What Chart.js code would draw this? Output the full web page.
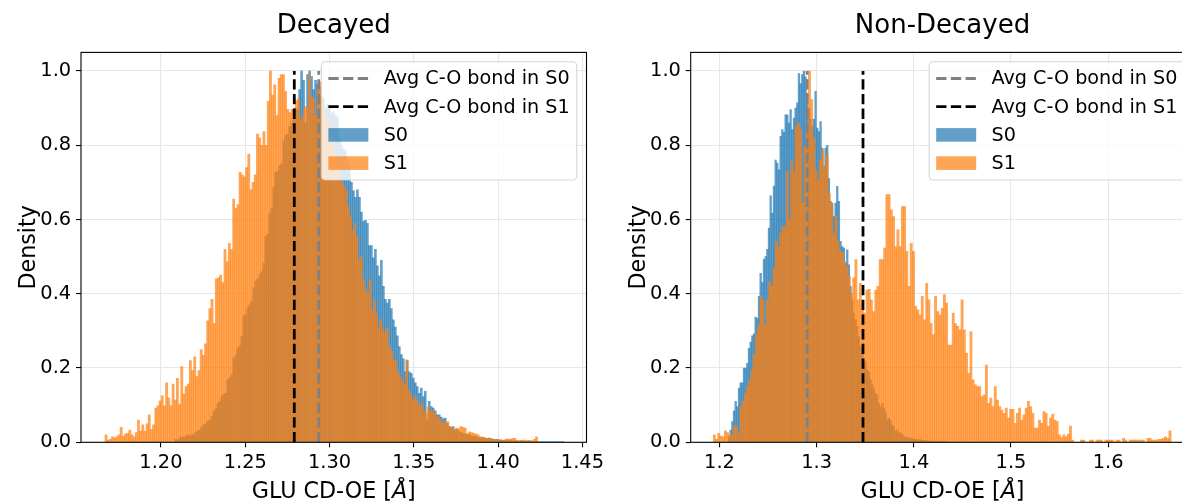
<!DOCTYPE html>
<html>
<head>
<meta charset="utf-8">
<title>GLU CD-OE bond length histograms</title>
<script src="https://cdn.jsdelivr.net/npm/chart.js@4.4.1/dist/chart.umd.min.js"></script>
<style>
  html, body { margin: 0; padding: 0; background: #ffffff; }
  body { width: 1182px; height: 502px; overflow: hidden; position: relative; }
  canvas { position: absolute; top: 0; }
  #decayed { left: 0; }
  #nondecayed { left: 600px; }
</style>
</head>
<body>
<canvas id="decayed" width="620" height="502" style="width:620px;height:502px"></canvas>
<canvas id="nondecayed" width="620" height="502" style="width:620px;height:502px"></canvas>
<script>
// ---- text ----
const leftTitle = 'Decayed';
const rightTitle = 'Non-Decayed';
const xLabelText = 'GLU CD-OE [';
const xLabelUnit = 'Å';
const xLabelClose = ']';
const yLabelText = 'Density';
const legendLabels = ['Avg C-O bond in S0', 'Avg C-O bond in S1', 'S0', 'S1'];

// ---- ticks and axis ranges ----
const yTicks = [0.0, 0.2, 0.4, 0.6, 0.8, 1.0];
const leftXTicks = [1.20, 1.25, 1.30, 1.35, 1.40, 1.45];
const rightXTicks = [1.2, 1.3, 1.4, 1.5, 1.6];
const leftXRange = [1.1526, 1.4524];
const rightXRange = [1.1704, 1.6886];
const yRange = [0, 1.05];

// ---- average C-O bond lengths [S0, S1] ----
const leftAverages = [1.2936, 1.2791];
const rightAverages = [1.2902, 1.3477];

// ---- Decayed, S0 histogram (normalised to peak) ----
const leftS0Start = 1.2083;
const leftS0BinWidth = 0.001183;
const leftS0 = [
  0.008, 0.006, 0.012, 0.015, 0.013, 0.017, 0.02, 0.016, 0.022, 0.02,
  0.027, 0.03, 0.033, 0.04, 0.048, 0.05, 0.058, 0.06, 0.07, 0.083,
  0.09, 0.105, 0.11, 0.123, 0.13, 0.132, 0.168, 0.175, 0.182, 0.227,
  0.235, 0.254, 0.26, 0.285, 0.34, 0.344, 0.362, 0.37, 0.38, 0.416,
  0.434, 0.44, 0.452, 0.46, 0.483, 0.555, 0.56, 0.617, 0.63, 0.686,
  0.727, 0.73, 0.745, 0.75, 0.812, 0.826, 0.83, 0.85, 0.86, 0.895,
  0.9, 0.895, 0.95, 1.0, 0.975, 0.86, 0.99, 1.0, 0.985, 0.95,
  0.975, 0.965, 0.955, 0.93, 0.925, 0.9, 0.91, 0.905, 0.885, 0.89,
  0.88, 0.875, 0.82, 0.8, 0.79, 0.785, 0.76, 0.745, 0.7, 0.677,
  0.66, 0.68, 0.66, 0.62, 0.595, 0.598, 0.59, 0.53, 0.53, 0.497,
  0.52, 0.475, 0.448, 0.49, 0.42, 0.385, 0.375, 0.385, 0.36, 0.33,
  0.31, 0.287, 0.258, 0.236, 0.225, 0.19, 0.22, 0.19, 0.186, 0.173,
  0.16, 0.15, 0.132, 0.146, 0.123, 0.137, 0.06, 0.11, 0.096, 0.092,
  0.085, 0.074, 0.074, 0.068, 0.063, 0.065, 0.051, 0.042, 0.04, 0.042,
  0.033, 0.035, 0.029, 0.027, 0.024, 0.022, 0.02, 0.021, 0.018, 0.015,
  0.016, 0.014, 0.013, 0.012, 0.013, 0.011, 0.01, 0.011, 0.008, 0.009,
  0.007, 0.008, 0.006, 0.006, 0.005, 0.006, 0.004, 0.005, 0.004, 0.004,
  0.003, 0.004, 0.003, 0.003, 0.002, 0.003, 0.002, 0.003, 0.002, 0.002,
  0.001, 0.002, 0.001, 0.002, 0.001, 0.001, 0.002, 0.001, 0.001, 0.001,
  0.002, 0.001, 0.001, 0.001, 0.002
];

// ---- Decayed, S1 histogram ----
const leftS1Start = 1.1668;
const leftS1BinWidth = 0.001283;
const leftS1 = [
  0.02, 0.006, 0.008, 0.015, 0.012, 0.015, 0.02, 0.04, 0.017, 0.022,
  0.024, 0.033, 0.02, 0.015, 0.026, 0.06, 0.03, 0.047, 0.03, 0.05,
  0.074, 0.035, 0.047, 0.092, 0.098, 0.112, 0.125, 0.098, 0.16, 0.12,
  0.098, 0.157, 0.114, 0.172, 0.103, 0.204, 0.13, 0.15, 0.157, 0.22,
  0.193, 0.23, 0.177, 0.193, 0.25, 0.234, 0.265, 0.327, 0.36, 0.385,
  0.32, 0.44, 0.443, 0.45, 0.43, 0.52, 0.486, 0.536, 0.52, 0.655,
  0.63, 0.64, 0.727, 0.72, 0.715, 0.74, 0.776, 0.68, 0.7, 0.72,
  0.83, 0.82, 0.8, 0.837, 0.8, 0.918, 1.0, 0.935, 0.963, 0.88,
  0.98, 0.99, 0.99, 0.945, 0.897, 0.888, 0.897, 0.878, 0.92, 0.925,
  0.87, 0.88, 0.905, 0.9, 0.99, 0.93, 0.925, 0.88, 0.955, 0.97,
  0.93, 0.9, 0.88, 0.85, 0.86, 0.8, 0.78, 0.74, 0.73, 0.7,
  0.69, 0.68, 0.635, 0.61, 0.57, 0.59, 0.555, 0.49, 0.5, 0.438,
  0.41, 0.402, 0.438, 0.355, 0.384, 0.348, 0.31, 0.33, 0.303, 0.294,
  0.308, 0.258, 0.245, 0.222, 0.222, 0.19, 0.177, 0.168, 0.155, 0.222,
  0.141, 0.128, 0.114, 0.123, 0.11, 0.096, 0.105, 0.083, 0.078, 0.095,
  0.087, 0.085, 0.078, 0.069, 0.065, 0.06, 0.051, 0.053, 0.056, 0.042,
  0.04, 0.033, 0.038, 0.036, 0.042, 0.04, 0.038, 0.024, 0.028, 0.026,
  0.024, 0.022, 0.02, 0.015, 0.014, 0.013, 0.011, 0.012, 0.011, 0.007,
  0.006, 0.005, 0.007, 0.006, 0.005, 0.009, 0.009, 0.008, 0.011, 0.011,
  0.005, 0.004, 0.005, 0.006, 0.004, 0.005, 0.005, 0.004, 0.008, 0.015
];

// ---- Non-Decayed, S0 histogram ----
const rightS0Start = 1.2090;
const rightS0BinWidth = 0.001713;
const rightS0 = [
  0.015, 0.033, 0.056, 0.085, 0.11, 0.096, 0.146, 0.16, 0.16, 0.2,
  0.2, 0.213, 0.253, 0.27, 0.287, 0.292, 0.337, 0.334, 0.393, 0.455,
  0.43, 0.493, 0.5, 0.52, 0.577, 0.664, 0.617, 0.69, 0.76, 0.752,
  0.734, 0.824, 0.842, 0.835, 0.882, 0.882, 0.86, 0.896, 0.842, 0.873,
  0.9, 0.914, 0.993, 0.966, 0.99, 1.0, 0.984, 0.94, 0.9, 0.87,
  0.85, 0.87,
  0.945, 0.846, 0.837, 0.864, 0.792, 0.743, 0.792, 0.8, 0.71, 0.649,
  0.644, 0.608, 0.644, 0.689, 0.649, 0.541, 0.527, 0.523, 0.482, 0.518,
  0.478, 0.42, 0.384, 0.348, 0.33, 0.312, 0.285, 0.258, 0.24, 0.222,
  0.217, 0.195, 0.19, 0.168, 0.155, 0.146, 0.132, 0.128, 0.105, 0.096,
  0.105, 0.092, 0.083, 0.06, 0.065, 0.06, 0.047, 0.042, 0.031, 0.033,
  0.024, 0.026, 0.02, 0.017, 0.013, 0.014, 0.011, 0.012, 0.01, 0.009,
  0.008, 0.008, 0.006, 0.007, 0.005, 0.005, 0.004, 0.004, 0.003,
  0.003, 0.002, 0.003, 0.002, 0.002, 0.001, 0.002, 0.001, 0.001, 0.002
];

// ---- Non-Decayed, S1 histogram ----
const rightS1Start = 1.1936;
const rightS1BinWidth = 0.002276;
const rightS1 = [
  0.02, 0.008, 0.024, 0.017, 0.015, 0.031, 0.026, 0.02, 0.02, 0.044,
  0.044, 0.024, 0.096, 0.11, 0.132, 0.15, 0.168, 0.195, 0.235, 0.29,
  0.316, 0.394, 0.384, 0.316, 0.384, 0.433, 0.42, 0.469, 0.541, 0.527,
  0.563, 0.581, 0.581, 0.73, 0.6, 0.757, 0.73, 0.85, 0.86, 0.842,
  0.644, 0.797, 0.85, 1.0, 0.923, 0.82,
  0.734, 0.707, 0.76, 0.788, 0.743, 0.775, 0.67, 0.644, 0.563, 0.608,
  0.541, 0.514, 0.51, 0.487, 0.473, 0.447, 0.402, 0.443, 0.492, 0.384,
  0.428, 0.375, 0.348, 0.41, 0.412, 0.384, 0.352, 0.41, 0.42, 0.492,
  0.492, 0.523, 0.667, 0.667, 0.626, 0.608, 0.527, 0.572, 0.527, 0.635,
  0.635, 0.514, 0.42, 0.536, 0.514, 0.366, 0.357, 0.343, 0.393, 0.33,
  0.428, 0.384,
  0.32, 0.29, 0.393, 0.352, 0.343, 0.361, 0.398, 0.375, 0.262, 0.262,
  0.348, 0.32, 0.312, 0.303, 0.384, 0.303, 0.24, 0.186, 0.298, 0.168,
  0.155, 0.15, 0.15, 0.123, 0.128, 0.208, 0.105, 0.119, 0.096, 0.15,
  0.114, 0.096, 0.087, 0.078, 0.092, 0.065, 0.089, 0.089, 0.051, 0.078,
  0.092, 0.06, 0.074, 0.092, 0.11, 0.096, 0.078, 0.038, 0.038, 0.06,
  0.051, 0.083,
  0.078, 0.044, 0.065, 0.076, 0.06, 0.056, 0.02, 0.013, 0.02, 0.015,
  0.022, 0.044, 0.006,
  0, 0, 0, 0.006, 0.006, 0, 0, 0.006, 0.006, 0,
  0.006, 0.006, 0.006, 0, 0.006, 0.006, 0.006, 0.006, 0, 0.006,
  0.006, 0, 0.011, 0.006, 0, 0.006, 0.006, 0.006, 0.006, 0.006,
  0.006, 0.006, 0, 0.011, 0.011, 0.006, 0.006, 0.006, 0.008, 0.008,
  0.011, 0.015, 0.011, 0.031
];

// ---- styling ----
const FONT = "'DejaVu Sans', 'Liberation Sans', sans-serif";
const S0_FILL = 'rgba(31, 119, 180, 0.7)';
const S1_FILL = 'rgba(255, 127, 14, 0.7)';
const AVG_S0_COLOR = '#808080';
const AVG_S1_COLOR = '#000000';
const GRID_COLOR = 'rgb(231, 231, 231)';
const TICK_SIZE = 19.4;
const LABEL_SIZE = 22.2;
const TITLE_SIZE = 26;
const LEGEND_SIZE = 19.2;
const DASH = [10.3, 4.4];
const LINE_W = 2.78;

Chart.defaults.font.family = FONT;
Chart.defaults.color = '#000';

const binsToPoints = (start, width, values) =>
  values.map((v, i) => ({ x: start + (i + 0.5) * width, y: v }));

const vline = (x, top) => [{ x: x, y: 0 }, { x: x, y: top }];

// Title, axis labels, frame and legend drawn around the chart area.
const decorPlugin = {
  id: 'decor',
  afterDatasetsDraw(chart, args, opts) {
    const { ctx, chartArea: a } = chart;
    ctx.save();
    // frame (spines)
    ctx.strokeStyle = '#000';
    ctx.lineWidth = 1.1;
    ctx.strokeRect(a.left, a.top, a.right - a.left, a.bottom - a.top);
    ctx.restore();
  },
  afterDraw(chart, args, opts) {
    const { ctx, chartArea: a } = chart;
    const cx = (a.left + a.right) / 2;
    const cy = (a.top + a.bottom) / 2;
    ctx.save();
    ctx.fillStyle = '#000';
    // title
    ctx.font = `${TITLE_SIZE}px ${FONT}`;
    ctx.textAlign = 'center';
    ctx.textBaseline = 'alphabetic';
    ctx.fillText(opts.title, cx, a.top - 19);

    // x label with italic angstrom symbol
    ctx.font = `${LABEL_SIZE}px ${FONT}`;
    const w1 = ctx.measureText(xLabelText).width;
    const w3 = ctx.measureText(xLabelClose).width;
    ctx.font = `italic ${LABEL_SIZE}px ${FONT}`;
    const w2 = ctx.measureText(xLabelUnit).width;
    let x0 = cx - (w1 + w2 + w3) / 2;
    const yb = a.bottom + 56;
    ctx.textAlign = 'left';
    ctx.font = `${LABEL_SIZE}px ${FONT}`;
    ctx.fillText(xLabelText, x0, yb);
    ctx.font = `italic ${LABEL_SIZE}px ${FONT}`;
    ctx.fillText(xLabelUnit, x0 + w1, yb);
    ctx.font = `${LABEL_SIZE}px ${FONT}`;
    ctx.fillText(xLabelClose, x0 + w1 + w2, yb);

    // y label
    ctx.save();
    ctx.translate(a.left - 46, cy);
    ctx.rotate(-Math.PI / 2);
    ctx.textAlign = 'center';
    ctx.textBaseline = 'alphabetic';
    ctx.font = `${LABEL_SIZE}px ${FONT}`;
    ctx.fillText(yLabelText, 0, 0);
    ctx.restore();

    // legend
    ctx.font = `${LEGEND_SIZE}px ${FONT}`;
    const textW = Math.max(...legendLabels.map(t => ctx.measureText(t).width));
    const pad = 7, handle = 40, gap = 15.3, rowH = 28.2;
    const w = pad + handle + gap + textW + pad;
    const h = 118.3;
    const right = a.right - 9.8;
    const top = a.top + 9.3;
    const left = right - w;
    ctx.beginPath();
    ctx.roundRect(left, top, w, h, 4);
    ctx.fillStyle = 'rgba(255,255,255,0.8)';
    ctx.fill();
    ctx.strokeStyle = 'rgba(204,204,204,0.8)';
    ctx.lineWidth = 1.1;
    ctx.stroke();
    const hx = left + pad;
    const tx = hx + handle + gap;
    ctx.textAlign = 'left';
    ctx.textBaseline = 'middle';
    legendLabels.forEach((t, i) => {
      const ry = top + 16.8 + i * rowH;
      if (i < 2) {
        ctx.save();
        ctx.strokeStyle = i === 0 ? AVG_S0_COLOR : AVG_S1_COLOR;
        ctx.lineWidth = LINE_W;
        ctx.setLineDash(DASH);
        ctx.beginPath();
        ctx.moveTo(hx, ry);
        ctx.lineTo(hx + handle, ry);
        ctx.stroke();
        ctx.restore();
      } else {
        ctx.fillStyle = i === 2 ? S0_FILL : S1_FILL;
        ctx.fillRect(hx, ry - 6.8, handle, 13.6);
      }
      ctx.fillStyle = '#000';
      ctx.fillText(t, tx, ry + 1);
    });
    ctx.restore();
  }
};

function buildPanel(canvasId, cfg) {
  const xAxis = (visible) => ({
    type: 'linear',
    position: 'bottom',
    min: cfg.xRange[0],
    max: cfg.xRange[1],
    offset: false,
    display: visible,
    afterBuildTicks: s => { s.ticks = cfg.xTicks.map(v => ({ value: v })); },
    afterFit: s => { if (visible) s.height = 502 - 442.3; },
    grid: {
      color: GRID_COLOR, lineWidth: 1.1, offset: false,
      drawTicks: true, tickLength: 5, tickColor: '#000', tickWidth: 1.1
    },
    border: { display: false },
    ticks: {
      color: '#000', font: { size: TICK_SIZE, family: FONT },
      padding: 4, maxRotation: 0, autoSkip: false,
      callback: v => Number(v).toFixed(cfg.xDecimals)
    }
  });

  return new Chart(document.getElementById(canvasId), {
    type: 'bar',
    data: {
      datasets: [
        {
          type: 'bar', label: 'S0', xAxisID: 'xs0', yAxisID: 'y',
          data: binsToPoints(cfg.s0Start, cfg.s0Width, cfg.s0),
          backgroundColor: S0_FILL, borderWidth: 0,
          barPercentage: 1, categoryPercentage: 1, grouped: false, order: 3
        },
        {
          type: 'bar', label: 'S1', xAxisID: 'xs1', yAxisID: 'y',
          data: binsToPoints(cfg.s1Start, cfg.s1Width, cfg.s1),
          backgroundColor: S1_FILL, borderWidth: 0,
          barPercentage: 1, categoryPercentage: 1, grouped: false, order: 2
        },
        {
          type: 'line', label: legendLabels[0], xAxisID: 'xs0', yAxisID: 'y',
          data: vline(cfg.avg[0], 1), borderColor: AVG_S0_COLOR,
          borderWidth: LINE_W, borderDash: DASH, pointRadius: 0, fill: false, order: 1
        },
        {
          type: 'line', label: legendLabels[1], xAxisID: 'xs0', yAxisID: 'y',
          data: vline(cfg.avg[1], 1), borderColor: AVG_S1_COLOR,
          borderWidth: LINE_W, borderDash: DASH, pointRadius: 0, fill: false, order: 0
        }
      ]
    },
    options: {
      responsive: false,
      animation: false,
      devicePixelRatio: 1,
      layout: { padding: { left: 0, right: cfg.padRight, top: 52.4, bottom: 0 } },
      scales: {
        xs0: xAxis(true),
        xs1: xAxis(false),
        y: {
          type: 'linear', position: 'left',
          min: yRange[0], max: yRange[1],
          afterBuildTicks: s => { s.ticks = yTicks.map(v => ({ value: v })); },
          afterFit: s => { s.width = cfg.yWidth; },
          grid: {
            color: GRID_COLOR, lineWidth: 1.1,
            drawTicks: true, tickLength: 5, tickColor: '#000', tickWidth: 1.1
          },
          border: { display: false },
          ticks: {
            color: '#000', font: { size: TICK_SIZE, family: FONT },
            padding: 4.8, autoSkip: false,
            callback: v => Number(v).toFixed(1)
          }
        }
      },
      plugins: {
        legend: { display: false },
        tooltip: { enabled: false },
        decor: { title: cfg.title }
      }
    },
    plugins: [decorPlugin]
  });
}

buildPanel('decayed', {
  title: leftTitle,
  xRange: leftXRange, xTicks: leftXTicks, xDecimals: 2,
  s0Start: leftS0Start, s0Width: leftS0BinWidth, s0: leftS0,
  s1Start: leftS1Start, s1Width: leftS1BinWidth, s1: leftS1,
  avg: leftAverages,
  yWidth: 81, padRight: 33.5
});

buildPanel('nondecayed', {
  title: rightTitle,
  xRange: rightXRange, xTicks: rightXTicks, xDecimals: 1,
  s0Start: rightS0Start, s0Width: rightS0BinWidth, s0: rightS0,
  s1Start: rightS1Start, s1Width: rightS1BinWidth, s1: rightS1,
  avg: rightAverages,
  yWidth: 90.7, padRight: 25.7
});
</script>
</body>
</html>
